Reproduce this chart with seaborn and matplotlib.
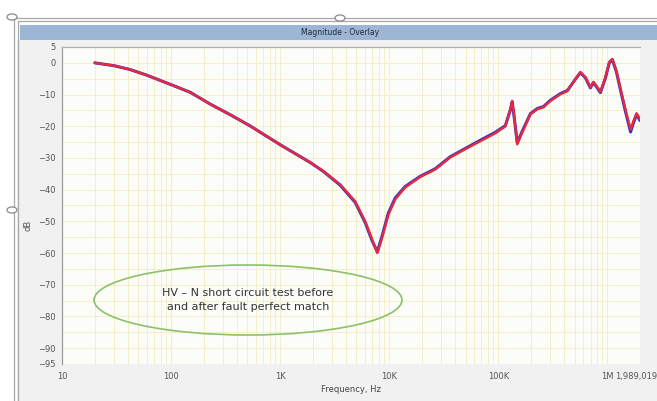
import pandas as pd
import matplotlib.pyplot as plt
import seaborn as sns
from matplotlib.patches import Rectangle, Ellipse, Circle
from matplotlib.lines import Line2D
from matplotlib.transforms import ScaledTranslation
from matplotlib.ticker import FixedLocator, LogLocator, NullFormatter, MultipleLocator

# frequency sweep points (Hz) and magnitude (dB)
freq = [20, 30, 42, 60, 102, 150, 228, 350, 531, 700, 1020, 1880, 2500, 3550, 4870,
        6020, 6980, 7770, 8630, 9800, 11350, 14000, 19200, 26400, 36300, 49800,
        68400, 93800, 116000, 129000, 134000, 140000, 149000, 166000, 197000,
        228000, 259000, 300000, 370000, 430000, 508000, 565000, 628000, 698000,
        745000, 810000, 862000, 959000, 1040000, 1110000, 1210000, 1320000,
        1460000, 1630000, 1730000, 1850000, 1989019]
db_after = [0, -0.9, -2.1, -3.9, -7, -9.3, -13, -16.4, -19.9, -22.5, -26, -31.4, -34.2,
            -38.4, -43.7, -50, -55.8, -60, -55, -48, -43, -39.3, -36, -33.6,
            -29.8, -27.2, -24.7, -22.2, -20, -14.6, -12, -17, -25.7, -21.9,
            -16.2, -14.6, -14, -12, -9.9, -8.9, -5.1, -2.9, -4.5, -7.7, -6,
            -7.7, -9.2, -4.5, 0.3, 1.2, -2.6, -8.3, -14.6, -21, -18.4, -15.9,
            -17.8]
db_before = [0, -0.9, -2.1, -3.9, -7, -9.3, -13, -16.4, -19.9, -22.5, -26, -31.4, -34.3,
             -38.6, -44, -50.4, -56.2, -59.6, -54.4, -47.4, -42.6, -39, -35.8,
             -33.4, -29.6, -27, -24.4, -21.9, -19.8, -14.8, -12.3, -17.4, -25.2,
             -21.5, -16, -14.4, -13.8, -11.8, -9.7, -8.7, -5.2, -3.1, -4.7, -7.9,
             -6.2, -8, -9.4, -4.8, 0, 1, -2.9, -8.7, -15.2, -21.8, -19, -16.3,
             -18.2]

x_ticks = [10, 100, 1000, 10000, 100000, 1000000, 1989019]
x_labels = ["10", "100", "1K", "10K", "100K", "1M", "1,989,019"]
y_ticks = [5, 0, -10, -20, -30, -40, -50, -60, -70, -80, -90, -95]

df = pd.DataFrame({
    "freq": freq * 2,
    "db": db_before + db_after,
    "run": ["before"] * len(freq) + ["after"] * len(freq),
})

sns.set_style("white")
plt.rcParams["font.family"] = ["DejaVu Sans"]

W, H = 657, 401
fig = plt.figure(figsize=(W / 100, H / 100), dpi=100)
fig.patch.set_facecolor("white")


def fx(px):
    return px / W


def fy(py):
    return 1 - py / H


# panel background, title bar, selection frame
fig.patches.append(Rectangle((fx(17), 0), fx(W - 17), fy(40), transform=fig.transFigure,
                             facecolor="#f1f1f1", edgecolor="none", zorder=-2))
fig.patches.append(Rectangle((fx(20), fy(40)), fx(W - 20), 15 / H, transform=fig.transFigure,
                             facecolor="#9db6d6", edgecolor="none", zorder=-1))
fig.text(fx(340), fy(32.5), "Magnitude - Overlay", ha="center", va="center",
         fontsize=5.5, color="#1e2a3a")
for xs, ys in [([fx(14), fx(14)], [fy(18), 0]), ([fx(17.5), fx(17.5)], [fy(21), 0]),
               ([fx(14), 1], [fy(18), fy(18)]), ([fx(17.5), 1], [fy(21), fy(21)])]:
    fig.lines.append(Line2D(xs, ys, transform=fig.transFigure, color="#a8a8a8", lw=0.9))
for cx, cy in [(12, 17), (340, 18), (12, 210)]:
    fig.patches.append(Circle((fx(cx), fy(cy)), 5 / W, transform=fig.transFigure,
                              facecolor="white", edgecolor="#8a8a8a", lw=0.9, zorder=5))

ax = fig.add_axes([fx(62), fy(364), fx(640 - 62), (364 - 47) / H])
ax.set_zorder(2)
ax.set_facecolor("#fcfcf8")

sns.lineplot(data=df, x="freq", y="db", hue="run", palette={"before": "#3535c8", "after": "#e8283e"},
             linewidth=1.7, legend=False, ax=ax, sort=False)
ax.lines[0].set_linewidth(2.2)

ax.set_xscale("log")
ax.set_xlim(10, 1989019)
ax.set_ylim(-95, 5)

ax.xaxis.set_major_locator(FixedLocator(x_ticks))
ax.set_xticklabels(x_labels)
ax.xaxis.set_minor_locator(LogLocator(base=10, subs=range(2, 10)))
ax.xaxis.set_minor_formatter(NullFormatter())
ax.yaxis.set_major_locator(FixedLocator(y_ticks))
ax.yaxis.set_minor_locator(MultipleLocator(5))

ax.grid(True, which="both", axis="x", color="#f2efc8", lw=0.7)
ax.grid(True, which="both", axis="y", color="#f2efc8", lw=0.7)
ax.set_axisbelow(True)

ax.tick_params(axis="x", which="major", length=4, width=0.8, color="#e05070",
               labelsize=6, labelcolor="#555555", pad=2)
ax.tick_params(axis="x", which="minor", length=0)
ax.tick_params(axis="y", which="major", length=3, width=0.8, color="#777777",
               labelsize=6, labelcolor="#555555", pad=1.5)
ax.tick_params(axis="y", which="minor", length=0)

last = ax.get_xticklabels()[-1]
last.set_transform(last.get_transform() + ScaledTranslation(-3 / 72, 0, fig.dpi_scale_trans))

for side in ["bottom", "right"]:
    ax.spines[side].set_visible(False)
ax.spines["left"].set_color("#9a9a9a")
ax.spines["left"].set_linewidth(0.9)
ax.spines["top"].set_color("#b0b0b0")
ax.spines["top"].set_linewidth(0.9)

ax.set_xlabel("Frequency, Hz", fontsize=6, color="#444444", labelpad=3)
ax.set_ylabel("")
fig.text(fx(28), fy(225), "dB", rotation=90, ha="center", va="center", fontsize=6, color="#555555")

# annotation ellipse
fig.patches.append(Ellipse((fx(248), fy(300)), 308 / W, 70 / H, transform=fig.transFigure,
                           facecolor="none", edgecolor="#8cc06a", lw=1.2, zorder=6))
fig.text(fx(248), fy(300), "HV \u2013 N short circuit test before\nand after fault perfect match",
         ha="center", va="center", fontsize=8, color="#333333", linespacing=1.5, zorder=7)

fig.savefig("out.png", dpi=100)
